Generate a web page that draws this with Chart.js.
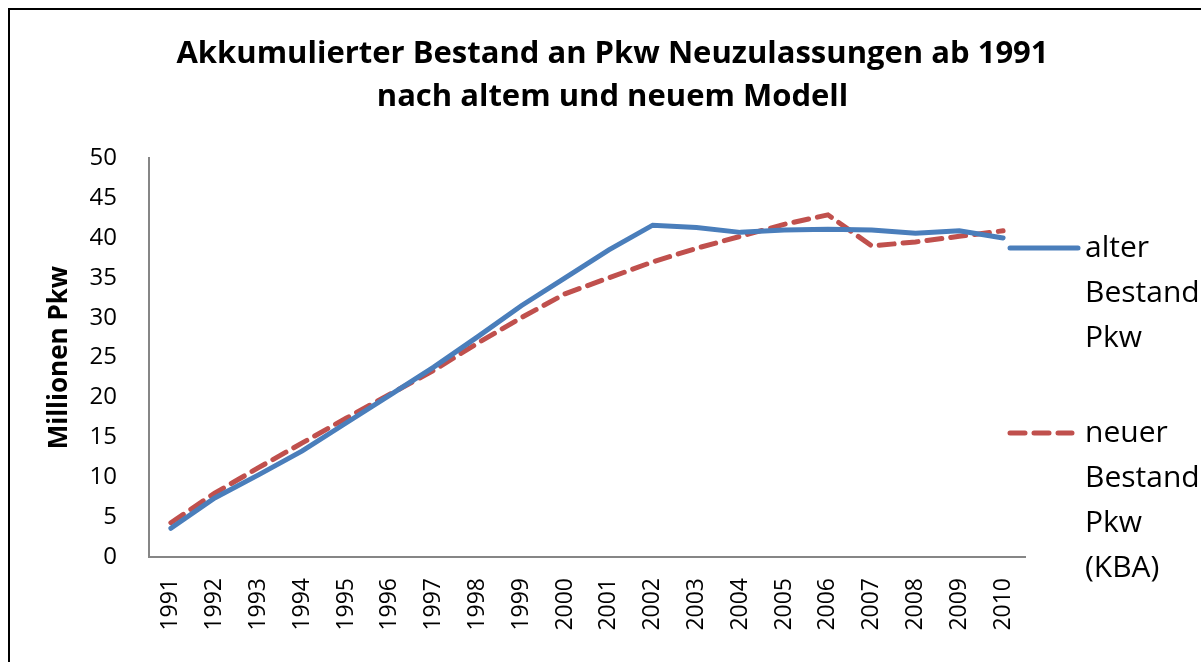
<!DOCTYPE html>
<html>
<head>
<meta charset="utf-8">
<script src="https://cdn.jsdelivr.net/npm/chart.js@4.4.0/dist/chart.umd.min.js"></script>
<style>
  html, body { margin:0; padding:0; background:#fff; overflow:hidden; }
  .wrap { position:relative; width:1201px; height:662px; overflow:hidden; }
  .frame { position:absolute; left:8px; top:8px; width:1300px; height:800px; border:2px solid #000; box-sizing:border-box; }
  #chart { position:absolute; left:0; top:0; }
</style>
</head>
<body>
<div class="wrap">
  <div class="frame"></div>
  <canvas id="chart" width="1225" height="662"></canvas>
</div>
<script>
// data
var years = ['1991','1992','1993','1994','1995','1996','1997','1998','1999','2000',
             '2001','2002','2003','2004','2005','2006','2007','2008','2009','2010'];
var alterBestand = [3.6, 7.4, 10.3, 13.3, 16.8, 20.3, 23.8, 27.6, 31.5, 35.0,
                    38.5, 41.6, 41.3, 40.7, 41.0, 41.1, 41.0, 40.6, 40.9, 40.0];
var neuerBestand = [4.3, 8.0, 11.2, 14.3, 17.4, 20.4, 23.4, 26.8, 30.0, 33.0,
                    35.0, 37.0, 38.7, 40.2, 41.7, 42.9, 39.0, 39.5, 40.2, 40.9];
var yTicks = [0, 5, 10, 15, 20, 25, 30, 35, 40, 45, 50];

var blue = '#4a7ebb';
var red = '#c0504d';

// legend at the right, wrapped like the original
var sideLegend = {
  id: 'sideLegend',
  afterDraw: function(chart) {
    var ctx = chart.ctx;
    var items = [
      { text: ['alter', 'Bestand', 'Pkw'], color: blue, dash: [], y: 248, x2: 1078 },
      { text: ['neuer', 'Bestand', 'Pkw', '(KBA)'], color: red, dash: [15, 9], y: 433, x2: 1072 }
    ];
    ctx.save();
    items.forEach(function(it) {
      ctx.beginPath();
      ctx.strokeStyle = it.color;
      ctx.lineWidth = 5;
      ctx.lineCap = 'round';
      ctx.setLineDash(it.dash);
      ctx.moveTo(1010, it.y);
      ctx.lineTo(it.x2, it.y);
      ctx.stroke();
      ctx.setLineDash([]);
      ctx.fillStyle = '#000';
      ctx.font = '30px "Open Sans"';
      ctx.textBaseline = 'middle';
      it.text.forEach(function(t, i) {
        ctx.fillText(t, 1085, it.y + i * 45);
      });
    });
    ctx.restore();
  }
};

var chart = new Chart(document.getElementById('chart'), {
  type: 'line',
  data: {
    labels: years,
    datasets: [{
      label: 'alter Bestand Pkw',
      data: alterBestand,
      borderColor: blue,
      backgroundColor: blue,
      borderWidth: 5,
      pointRadius: 0,
      tension: 0,
      borderCapStyle: 'round'
    }, {
      label: 'neuer Bestand Pkw (KBA)',
      data: neuerBestand,
      borderColor: red,
      backgroundColor: red,
      borderWidth: 5,
      borderDash: [15, 9],
      borderCapStyle: 'round',
      pointRadius: 0,
      tension: 0
    }]
  },
  options: {
    responsive: false,
    animation: false,
    devicePixelRatio: 1,
    layout: { padding: 0 },
    plugins: {
      legend: { display: false },
      tooltip: { enabled: false },
      title: {
        display: true,
        text: ['Akkumulierter Bestand an Pkw Neuzulassungen ab 1991', 'nach altem und neuem Modell'],
        color: '#000',
        font: { family: 'Open Sans', size: 31, weight: 'bold', lineHeight: 1.39 },
        padding: { top: 33, bottom: 39 }
      }
    },
    scales: {
      x: {
        offset: true,
        grid: { display: false },
        border: { display: true, color: '#868686', width: 2 },
        ticks: {
          color: '#000',
          font: { family: 'Open Sans', size: 23 },
          minRotation: 90,
          maxRotation: 90,
          padding: 13,
          autoSkip: false
        },
        afterFit: function(scale) { scale.height = 105; }
      },
      y: {
        min: 0,
        max: 50,
        grid: { display: false },
        border: { display: true, color: '#868686', width: 2 },
        afterBuildTicks: function(scale) {
          scale.ticks = yTicks.map(function(v) { return { value: v }; });
        },
        ticks: {
          color: '#000',
          font: { family: 'Open Sans', size: 24 },
          padding: 24
        },
        title: {
          display: true,
          text: 'Millionen Pkw',
          color: '#000',
          font: { family: 'Open Sans', size: 26, weight: 'bold' },
          padding: { top: 44, bottom: 0 }
        },
        afterFit: function(scale) { scale.width = 149; }
      },
      // empty right axis, keeps room for the legend
      side: {
        type: 'linear',
        position: 'right',
        display: true,
        grid: { display: false },
        border: { display: false },
        ticks: { display: false },
        afterFit: function(scale) { scale.width = 200; }
      }
    }
  },
  plugins: [sideLegend]
});
</script>
</body>
</html>
